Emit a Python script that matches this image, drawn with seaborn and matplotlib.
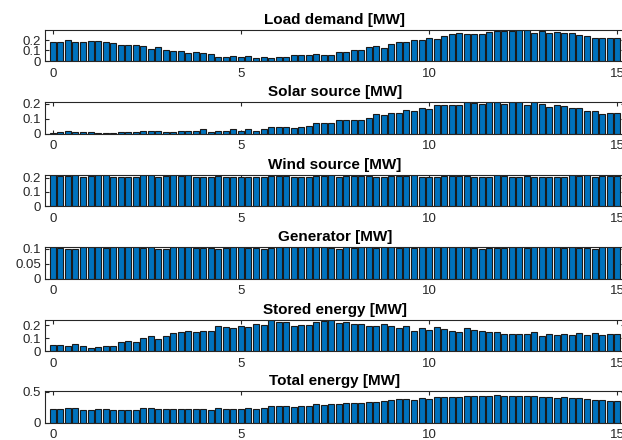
# import required libraries
import numpy as np
import matplotlib
matplotlib.use("Agg")
import matplotlib.pyplot as plt
import seaborn as sns

# time axis (hours), one bar every 0.2
hours = np.round(np.linspace(0, 15, 76), 1)

load_demand = [0.178, 0.18, 0.2, 0.18, 0.178, 0.19, 0.19, 0.18, 0.168, 0.155,
               0.15, 0.155, 0.14, 0.118, 0.136, 0.108, 0.092, 0.092, 0.076, 0.086,
               0.08, 0.067, 0.041, 0.041, 0.05, 0.041, 0.05, 0.032, 0.041, 0.03,
               0.035, 0.035, 0.054, 0.054, 0.054, 0.067, 0.054, 0.054, 0.083, 0.089,
               0.1, 0.105, 0.13, 0.143, 0.127, 0.16, 0.184, 0.18, 0.2, 0.2,
               0.215, 0.213, 0.238, 0.257, 0.263, 0.254, 0.257, 0.257, 0.273, 0.282,
               0.289, 0.289, 0.298, 0.295, 0.27, 0.289, 0.27, 0.273, 0.27, 0.267,
               0.244, 0.238, 0.222, 0.222, 0.219, 0.219]

solar_source = [0.004, 0.013, 0.02, 0.011, 0.007, 0.007, 0.004, 0.004, 0.004, 0.011,
                0.011, 0.007, 0.018, 0.018, 0.02, 0.013, 0.013, 0.018, 0.018, 0.02,
                0.027, 0.013, 0.02, 0.02, 0.027, 0.02, 0.031, 0.02, 0.027, 0.044,
                0.044, 0.044, 0.04, 0.045, 0.048, 0.073, 0.073, 0.073, 0.091, 0.093,
                0.093, 0.093, 0.104, 0.127, 0.122, 0.14, 0.136, 0.156, 0.149, 0.171,
                0.164, 0.189, 0.187, 0.187, 0.193, 0.207, 0.202, 0.196, 0.207, 0.207,
                0.2, 0.211, 0.207, 0.193, 0.207, 0.198, 0.178, 0.187, 0.182, 0.167,
                0.167, 0.153, 0.147, 0.129, 0.138, 0.14]

wind_source = [0.218, 0.212, 0.212, 0.218, 0.206, 0.214, 0.218, 0.218, 0.206, 0.204,
               0.206, 0.206, 0.218, 0.218, 0.205, 0.212, 0.216, 0.212, 0.216, 0.207,
               0.205, 0.207, 0.214, 0.206, 0.205, 0.206, 0.207, 0.206, 0.207, 0.214,
               0.214, 0.214, 0.206, 0.205, 0.204, 0.214, 0.212, 0.218, 0.206, 0.214,
               0.214, 0.212, 0.212, 0.206, 0.207, 0.214, 0.212, 0.214, 0.216, 0.207,
               0.205, 0.206, 0.214, 0.214, 0.212, 0.214, 0.207, 0.205, 0.207, 0.218,
               0.214, 0.206, 0.205, 0.214, 0.207, 0.206, 0.205, 0.207, 0.206, 0.216,
               0.212, 0.216, 0.206, 0.214, 0.214, 0.212]

generator = [0.105, 0.101, 0.100, 0.100, 0.105, 0.105, 0.105, 0.101, 0.105, 0.105,
             0.105, 0.105, 0.101, 0.105, 0.100, 0.100, 0.105, 0.104, 0.105, 0.101,
             0.101, 0.101, 0.100, 0.101, 0.105, 0.105, 0.101, 0.101, 0.100, 0.101,
             0.105, 0.104, 0.105, 0.105, 0.104, 0.105, 0.104, 0.101, 0.100, 0.105,
             0.101, 0.105, 0.104, 0.101, 0.105, 0.105, 0.101, 0.105, 0.101, 0.105,
             0.104, 0.105, 0.105, 0.105, 0.105, 0.104, 0.101, 0.100, 0.101, 0.101,
             0.101, 0.105, 0.105, 0.101, 0.105, 0.104, 0.105, 0.105, 0.101, 0.105,
             0.101, 0.101, 0.100, 0.105, 0.104, 0.105]

stored_energy = [0.049, 0.049, 0.036, 0.051, 0.038, 0.023, 0.033, 0.036, 0.041, 0.067,
                 0.074, 0.067, 0.1, 0.113, 0.09, 0.115, 0.138, 0.144, 0.159, 0.144,
                 0.154, 0.154, 0.197, 0.19, 0.182, 0.195, 0.19, 0.21, 0.203, 0.238,
                 0.226, 0.228, 0.197, 0.204, 0.2, 0.226, 0.231, 0.238, 0.218, 0.226,
                 0.21, 0.213, 0.192, 0.192, 0.213, 0.197, 0.177, 0.197, 0.154, 0.18,
                 0.164, 0.187, 0.172, 0.154, 0.146, 0.18, 0.162, 0.159, 0.151, 0.151,
                 0.136, 0.133, 0.133, 0.133, 0.151, 0.12, 0.136, 0.126, 0.133, 0.128,
                 0.141, 0.126, 0.141, 0.128, 0.136, 0.133]

total_energy = [0.22, 0.22, 0.23, 0.23, 0.21, 0.21, 0.22, 0.215, 0.2, 0.21,
                0.21, 0.21, 0.235, 0.23, 0.22, 0.22, 0.225, 0.225, 0.225, 0.22,
                0.225, 0.21, 0.23, 0.225, 0.225, 0.225, 0.23, 0.22, 0.235, 0.26,
                0.26, 0.26, 0.255, 0.26, 0.26, 0.293, 0.282, 0.305, 0.305, 0.32,
                0.316, 0.316, 0.328, 0.339, 0.35, 0.362, 0.374, 0.38, 0.362, 0.39,
                0.385, 0.408, 0.408, 0.408, 0.408, 0.437, 0.425, 0.425, 0.431, 0.443,
                0.437, 0.431, 0.437, 0.431, 0.431, 0.42, 0.414, 0.402, 0.408, 0.397,
                0.39, 0.374, 0.368, 0.362, 0.356, 0.356]

titles = ["Load demand [MW]", "Solar source [MW]", "Wind source [MW]",
          "Generator [MW]", "Stored energy [MW]", "Total energy [MW]"]
series = [load_demand, solar_source, wind_source, generator, stored_energy, total_energy]
y_tops = [0.3, 0.21, 0.222, 0.1055, 0.245, 0.51]
y_ticks = [[0, 0.1, 0.2], [0, 0.1, 0.2], [0, 0.1, 0.2], [0, 0.05, 0.1], [0, 0.1, 0.2], [0, 0.5]]
y_ticklabels = [["0", "0.1", "0.2"], ["0", "0.1", "0.2"], ["0", "0.1", "0.2"],
                ["0", "0.05", "0.1"], ["0", "0.1", "0.2"], ["0", "0.5"]]
x_ticks = [0, 5, 10, 15]

sns.set_style("ticks")
plt.rcParams['font.family'] = ['Liberation Sans', 'DejaVu Sans']

fig = plt.figure(figsize=(6.22, 4.40), dpi=100)

# axes bottoms in pixels from the top of the picture
bottoms_px = [61, 133.5, 206, 278.5, 351, 422.5]
height_px = 31.5

for k in range(6):
    ax = fig.add_axes([45 / 622, 1 - bottoms_px[k] / 440, 580 / 622, height_px / 440])
    sns.barplot(x=hours, y=series[k], native_scale=True, ax=ax, color="#0072BD",
                saturation=1, edgecolor="#1a1a1a", linewidth=0.8, width=0.8, errorbar=None)
    ax.set_xlim(-0.21, 15.21)
    ax.set_ylim(0, y_tops[k])
    ax.set_xticks(x_ticks)
    ax.set_xticklabels([str(v) for v in x_ticks])
    ax.set_yticks(y_ticks[k])
    ax.set_yticklabels(y_ticklabels[k])
    ax.set_xlabel("")
    ax.set_ylabel("")
    ax.set_title(titles[k], fontsize=11, fontweight="bold", color="black", pad=4)
    ax.tick_params(direction="in", top=True, right=True, length=3, width=0.8,
                   labelsize=9.5, colors="#262626")
    ax.tick_params(axis="x", pad=5)
    ax.tick_params(axis="y", pad=3)
    for s in ax.spines.values():
        s.set_color("#262626")
        s.set_linewidth(0.8)

fig.savefig("out.png", dpi=100)
